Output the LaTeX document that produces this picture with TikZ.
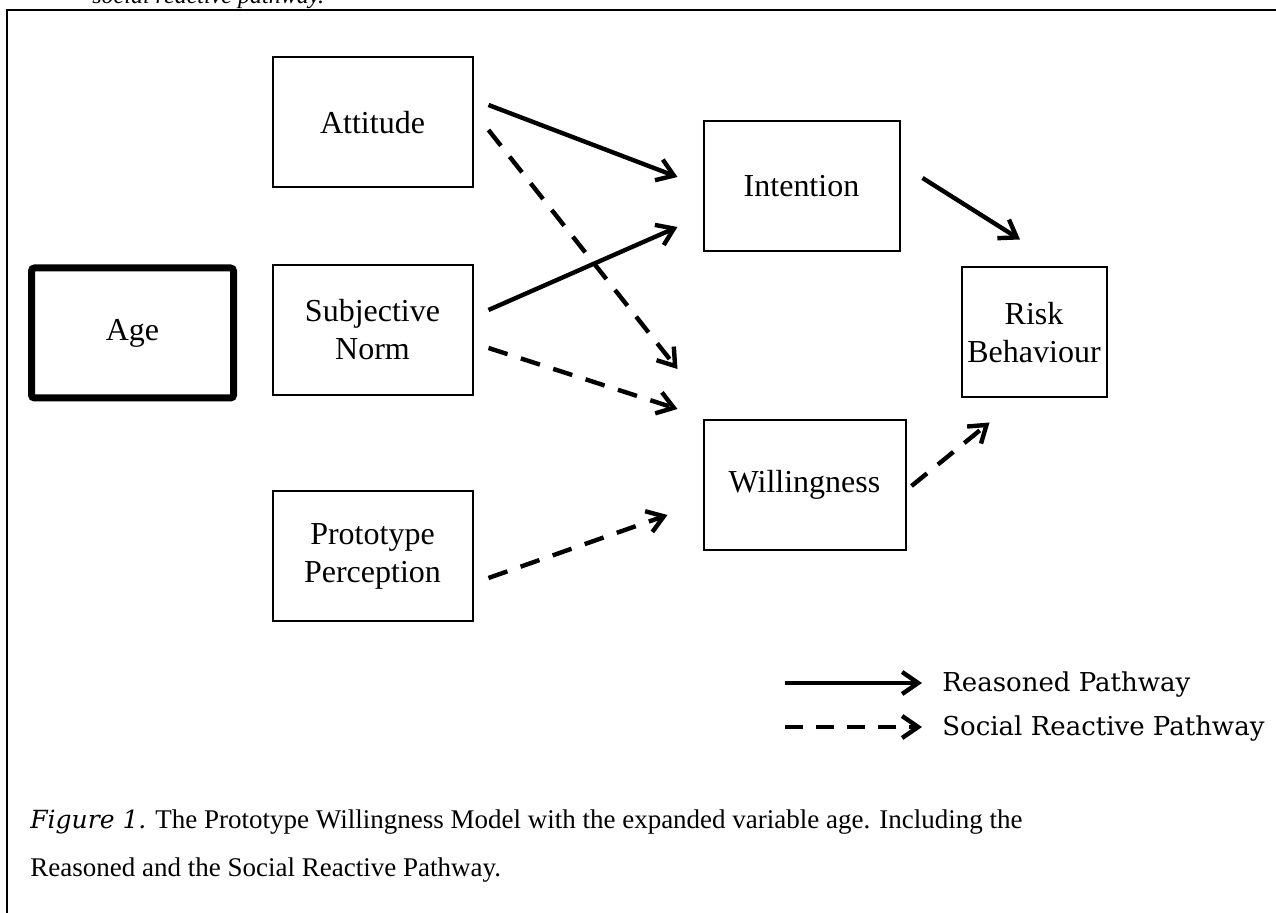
\documentclass[tikz,border=0pt]{standalone}
\usepackage{fontspec}
\setmainfont{Liberation Serif}
\newfontfamily\legfont{DejaVu Serif}
\usetikzlibrary{arrows.meta,calc}

\begin{document}
\begin{tikzpicture}[x=0.5pt,y=-0.5pt]
\tikzset{
  BX/.style={draw,line width=1pt,rectangle,minimum width=100pt,minimum height=65pt,align=center,inner sep=2pt,font=\fontsize{16}{19}\selectfont},
  AG/.style={BX,line width=3.5pt,rounded corners=1.5pt,minimum width=101pt},
  RP/.style={-{Straight Barb[length=8pt,width=11pt]},line width=2.2pt},
  SP/.style={RP,dash pattern=on 10pt off 7pt},
  LG/.style={font=\legfont\fontsize{13}{15}\selectfont,anchor=west,inner sep=0pt},
  CP/.style={font=\fontsize{13.5}{16}\selectfont,anchor=base west,inner sep=0pt},
}
\clip (0,0) rectangle (1276,913);

% page frame and cut-off heading
\draw[line width=1pt](7,913)--(7,10)--(1276,10);
\node[CP,font=\fontsize{12}{14}\selectfont\itshape](head) at (92,4){social reactive pathway.};

\node[AG](age)  at (132.5,333){Age};
\node[BX](att)  at (372.5,122.5){Attitude};
\node[BX](sn)   at (372.5,330){Subjective\\Norm};
\node[BX](pp)   at (372.5,556.5){Prototype\\Perception};
\node[BX,minimum width=98pt](int)  at (801.5,186.5){Intention};
\node[BX,minimum width=101pt](wil) at (804.5,485){Willingness};
\node[BX,minimum width=72.5pt](risk) at (1034,332.5){Risk\\Behaviour};

\draw[RP]($(att.east)+(15,-17.5)$)--($(int.west)+(-25,-9.5)$);
\draw[SP]($(att.east)+(15,7.5)$)--($(wil.north west)+(-25,-50)$);
\draw[RP]($(sn.east)+(15,-20)$)--($(int.west)+(-25,40.5)$);
\draw[SP]($(sn.east)+(15,18)$)--($(wil.north west)+(-25,-10)$);
\draw[SP]($(pp.east)+(15,21.5)$)--($(wil.west)+(-35,30)$);
\draw[RP]($(int.east)+(22,-8.5)$)--($(risk.north)+(-14,-27)$);
\draw[SP]($(wil.east)+(5,1)$)--($(risk.south west)+(29,24)$);

% legend
\coordinate (ra) at (785,683);
\coordinate (rb) at (922,683);
\coordinate (sa) at (785,727);
\coordinate (sb) at (922,727);
\draw[RP](ra)--(rb);
\draw[RP,dash pattern=on 9pt off 6.5pt](sa)--(sb);
\node[LG](lr) at (942,685){Reasoned Pathway};
\node[LG](ls) at (942,729){Social Reactive Pathway};

\node[CP](cap1) at (30,829){{\legfont\itshape\fontsize{12.5}{15}\selectfont Figure 1.} The Prototype Willingness Model with the expanded variable age. Including the};
\node[CP](cap2) at (30,877){Reasoned and the Social Reactive Pathway.};

\end{tikzpicture}
\end{document}
